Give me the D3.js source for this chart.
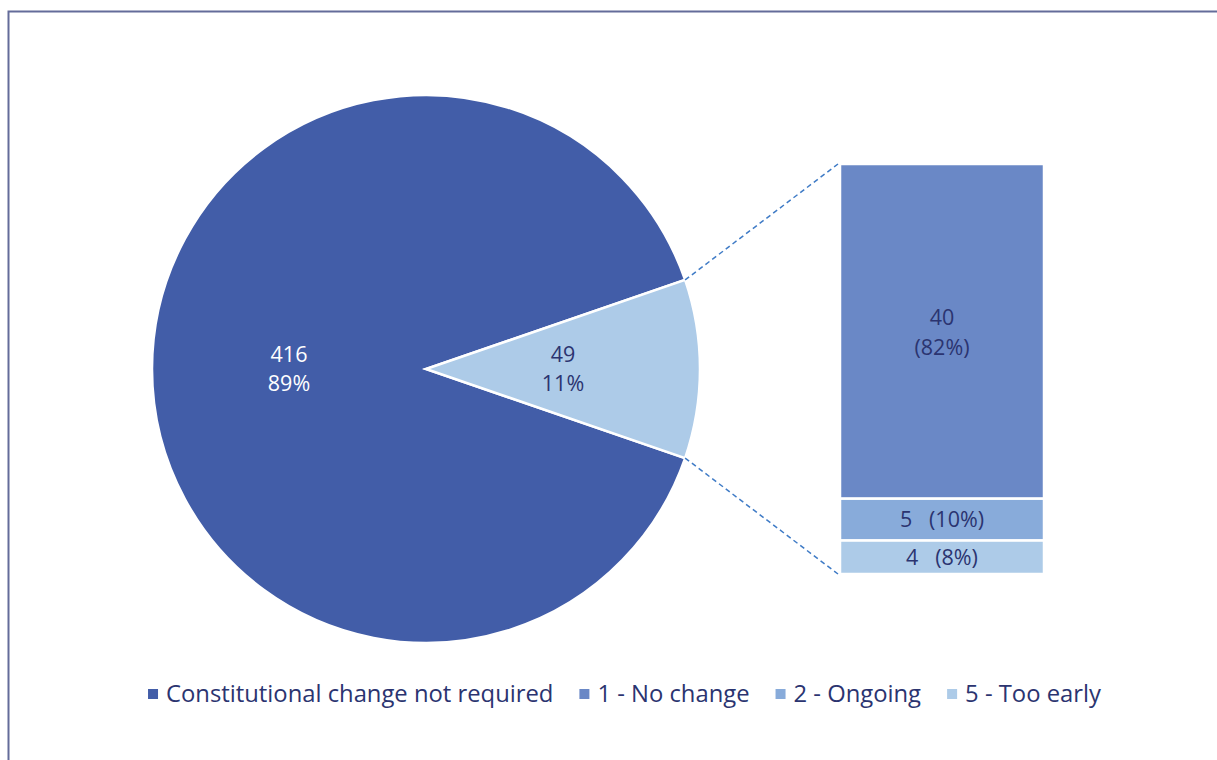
<!DOCTYPE html>
<html>
<head>
<meta charset="utf-8">
<script src="https://cdn.jsdelivr.net/npm/d3@7"></script>
<style>
  html, body { margin: 0; padding: 0; background: #fff; }
  svg { display: block; font-family: "Open Sans", "Noto Sans", sans-serif; }
</style>
</head>
<body>
<svg id="chart" width="1217" height="760"></svg>
<script>
// Main pie: required vs. not required
const pieCategories = ["Constitutional change not required", "Constitutional change required"];
const pieValues = [416, 49];
const pieColors = ["#425DA8", "#ADCBE8"];
const pieLabelColors = ["#ffffff", "#2B3470"];

// Breakdown of the smaller slice
const barCategories = ["1 - No change", "2 - Ongoing", "5 - Too early"];
const barValues = [40, 5, 4];
const barColors = ["#6A88C6", "#88ABDA", "#ADCBE8"];

// Legend entries
const legendLabels = ["Constitutional change not required", "1 - No change", "2 - Ongoing", "5 - Too early"];
const legendColors = ["#425DA8", "#6A88C6", "#88ABDA", "#ADCBE8"];

const svg = d3.select("#chart");
const textColor = "#2B3470";
const labelSize = 21.5;

// Frame
svg.append("path")
  .attr("d", "M8.5,760 L8.5,11.5 L1217,11.5")
  .attr("fill", "none")
  .attr("stroke", "#646C9A")
  .attr("stroke-width", 2);

// ---- Pie ----
const cx = 426, cy = 369, r = 274;
const total = d3.sum(pieValues);
const smallAngle = 2 * Math.PI * pieValues[1] / total;
const start = Math.PI / 2 + smallAngle / 2;
const pie = d3.pie().sort(null).startAngle(start).endAngle(start + 2 * Math.PI);
const arcs = pie(pieValues);
const arc = d3.arc().innerRadius(0).outerRadius(r);

const gPie = svg.append("g").attr("transform", `translate(${cx},${cy})`);
gPie.selectAll("path.slice")
  .data(arcs)
  .join("path")
  .attr("class", "slice")
  .attr("d", arc)
  .attr("fill", (d, i) => pieColors[i])
  .attr("stroke", "#fff")
  .attr("stroke-width", 2.5)
  .attr("stroke-linejoin", "miter");

const labelArc = d3.arc().innerRadius(r * 0.5).outerRadius(r * 0.5);
gPie.selectAll("text.plabel")
  .data(arcs)
  .join("text")
  .attr("class", "plabel")
  .attr("text-anchor", "middle")
  .attr("font-size", labelSize)
  .attr("fill", (d, i) => pieLabelColors[i])
  .each(function (d, i) {
    const c = labelArc.centroid(d);
    const t = d3.select(this);
    t.append("tspan").attr("x", c[0]).attr("y", c[1] - 7).text(d.value);
    t.append("tspan").attr("x", c[0]).attr("y", c[1] + 22)
      .text(Math.round(100 * d.value / total) + "%");
  });

// ---- Stacked bar ----
const barX0 = 840, barX1 = 1044;
const barTotal = d3.sum(barValues);
const y = d3.scaleLinear().domain([0, barTotal]).range([574, 164]);
let cum = barTotal;
const segs = barValues.map((v, i) => {
  const top = cum;
  cum -= v;
  return { v, i, top, bottom: cum };
});

const gBar = svg.append("g");
gBar.selectAll("rect")
  .data(segs)
  .join("rect")
  .attr("x", barX0)
  .attr("width", barX1 - barX0)
  .attr("y", d => y(d.top))
  .attr("height", d => y(d.bottom) - y(d.top))
  .attr("fill", d => barColors[d.i])
  .attr("stroke", "#fff")
  .attr("stroke-width", 2.5);

gBar.selectAll("text")
  .data(segs)
  .join("text")
  .attr("text-anchor", "middle")
  .attr("font-size", labelSize)
  .attr("fill", textColor)
  .each(function (d) {
    const t = d3.select(this);
    const mid = (barX0 + barX1) / 2;
    const pct = Math.round(100 * d.v / barTotal);
    if (d.i === 0) {
      t.append("tspan").attr("x", mid).attr("y", y(d.top) + 161).text(d.v);
      t.append("tspan").attr("x", mid).attr("y", y(d.top) + 191).text("(" + pct + "%)");
    } else {
      t.attr("x", mid).attr("y", (y(d.top) + y(d.bottom)) / 2 + 7.5)
        .attr("xml:space", "preserve")
        .text(d.v + "   (" + pct + "%)");
    }
  });

// ---- Connector lines ----
const small = arcs[1];
const pt = a => [cx + r * Math.sin(a), cy - r * Math.cos(a)];
const pTop = pt(small.startAngle);
const pBot = pt(small.endAngle);
[[pTop, [barX0 - 2, y(barTotal)]], [pBot, [barX0 - 2, y(0)]]].forEach(([a, b]) => {
  svg.append("line")
    .attr("x1", a[0]).attr("y1", a[1])
    .attr("x2", b[0]).attr("y2", b[1])
    .attr("stroke", "#3F7BC6")
    .attr("stroke-width", 1.5)
    .attr("stroke-dasharray", "5,3.5");
});

// ---- Legend ----
const legend = svg.append("g").attr("transform", "translate(0,694)");
const items = legend.selectAll("g.item")
  .data(legendLabels)
  .join("g")
  .attr("class", "item");
items.append("rect")
  .attr("width", 10).attr("height", 10)
  .attr("y", -5)
  .attr("fill", (d, i) => legendColors[i]);
items.append("text")
  .attr("x", 18)
  .attr("y", 8)
  .attr("font-size", 23.8)
  .attr("fill", textColor)
  .text(d => d);
// lay items out left to right, centred
const gap = 26;
const widths = [];
items.each(function () { widths.push(this.getBBox().width); });
const totalW = d3.sum(widths) + gap * (widths.length - 1);
let lx = (145 + 1104) / 2 - totalW / 2;
items.each(function (d, i) {
  d3.select(this).attr("transform", `translate(${lx},0)`);
  lx += widths[i] + gap;
});
</script>
</body>
</html>
